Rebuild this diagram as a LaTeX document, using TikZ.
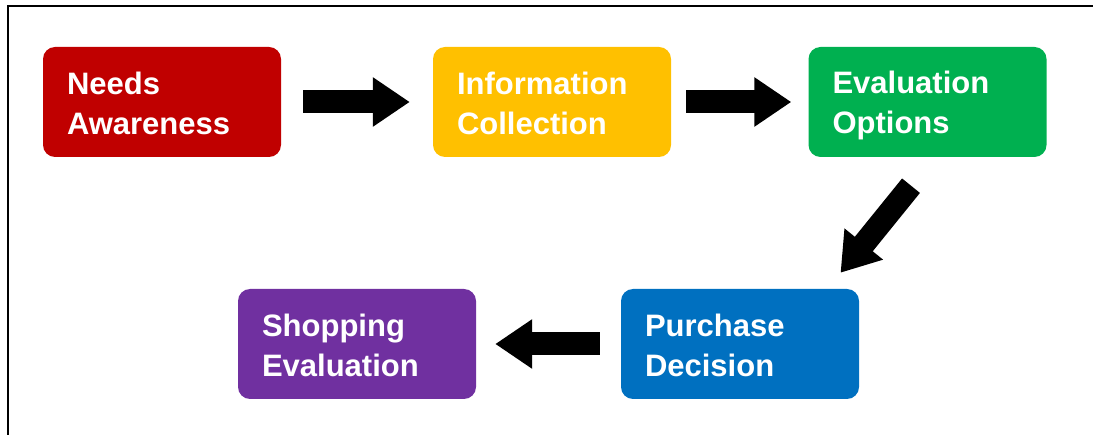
\documentclass[tikz,border=0pt]{standalone}
\usepackage{fontspec}
\setmainfont{Liberation Sans}
\usetikzlibrary{arrows.meta,calc}

\definecolor{needred}{HTML}{C00000}
\definecolor{infoyellow}{HTML}{FFC000}
\definecolor{evalgreen}{HTML}{00B050}
\definecolor{buyblue}{HTML}{0070C0}
\definecolor{shoppurple}{HTML}{7030A0}

\tikzset{
  stage/.style={rounded corners=12pt, minimum width=238pt, minimum height=110pt,
    text width=190pt, inner xsep=24pt, inner ysep=0pt, align=left,
    text=white, font=\bfseries\fontsize{31}{40}\selectfont,
    execute at begin node=\rule{0pt}{30pt},
    execute at end node=\rule[-4pt]{0pt}{4pt}},
  bigarrow/.style={line width=23pt, -{Triangle[length=37pt,width=47pt]}}
}

\begin{document}
\begin{tikzpicture}[x=1pt, y=-1pt]
\useasboundingbox (0,0) rectangle (1093,435);

% draw the frame
\draw[line width=2.5pt] (1093,6) -- (8,6) -- (8,435);

% draw the stages
\foreach \name/\pos/\col/\txt in {
na/{(162,102)}/needred/{Needs\\Awareness},
ic/{(552,102)}/infoyellow/{Information\\Collection},
eo/{(927.5,102)}/evalgreen/{Evaluation\\Options},
pd/{(740,344)}/buyblue/{Purchase\\Decision},
se/{(357,344)}/shoppurple/{Shopping\\Evaluation}}
\node[stage, fill=\col] (\name) at \pos {\txt};

% draw the arrows between the stages
\draw[bigarrow, shorten <=22pt, shorten >=23pt] (na) -- (ic);
\draw[bigarrow, shorten <=15pt, shorten >=17pt] (ic) -- (eo);
\draw[bigarrow] ($(eo.south)+(-16.5,28.5)$) -- ($(pd.north)+(100.5,-16)$);
\draw[bigarrow, shorten <=21pt, shorten >=19pt] (pd) -- (se);
\end{tikzpicture}
\end{document}
